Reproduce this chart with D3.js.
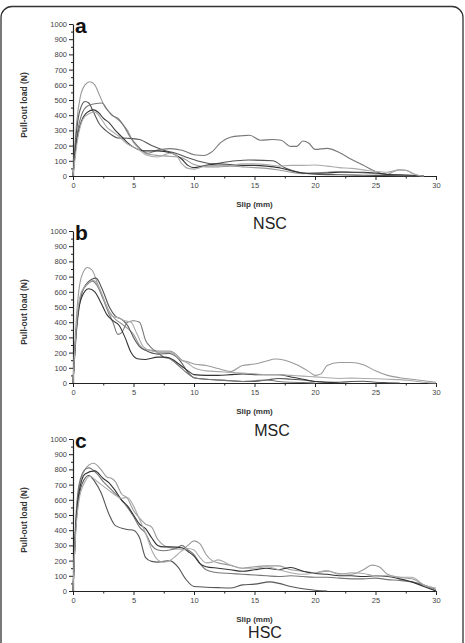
<!DOCTYPE html>
<html>
<head>
<meta charset="utf-8">
<script src="https://cdn.jsdelivr.net/npm/d3@7"></script>
<style>
    body { margin: 0; background: #fff; }
    svg { display: block; }
    .axis path, .axis line { stroke: #222; }
    .axis text { fill: #444; font-family: "Liberation Sans", Arial, sans-serif; font-size: 7.5px; }
</style>
</head>
<body>
<div id="chart-area"></div>
<script>

// tick values
const yTicks = [0, 100, 200, 300, 400, 500, 600, 700, 800, 900, 1000];
const xTicks = [0, 5, 10, 15, 20, 25, 30];
const panelLetters = ["a", "b", "c"];
const panelCaptions = ["NSC", "MSC", "HSC"];

// NSC curves, [slip (mm), load (N)]
const nsc1 = [[0,0],[0.3,350],[0.6,520],[1,600],[1.4,620],[1.8,600],[2.2,530],[2.6,460],[3,420],[3.5,385],[4,350],[4.5,300],[5,220],[5.5,180],[6,150],[6.5,140],[7,135],[8,130],[9,120],[10,75],[11,60],[12,60],[13,65],[14,60],[15,55],[16,50],[17,40],[18,25],[19,15],[20,20],[21,25],[22,30],[23,25],[24,20],[25,15],[26,12],[26.5,30],[27,40],[27.5,38],[28,20],[28.5,5],[29,0]];
const nsc2 = [[0,0],[0.3,300],[0.6,440],[1,490],[1.3,480],[1.7,420],[2.2,340],[2.7,300],[3.2,270],[3.7,250],[4.5,248],[5.5,240],[6.5,200],[7.5,170],[8.5,150],[9.5,120],[10.5,95],[11.5,80],[12.5,90],[13.5,100],[14.5,105],[16.5,100],[17.5,55],[19,20],[20,12],[22,8],[24,5],[26,3],[28,0]];
const nsc3 = [[0,0],[0.3,250],[0.7,400],[1.2,460],[1.8,475],[2.4,480],[2.8,440],[3.2,400],[3.7,380],[4.2,330],[4.7,260],[5.2,210],[5.7,170],[6.2,150],[7,170],[8,180],[9,170],[10,140],[10.8,135],[11.5,160],[12.2,220],[13,255],[14,265],[14.6,268],[15.5,235],[16.5,240],[17.2,235],[18,195],[18.5,195],[19,230],[19.5,215],[20,175],[21,182],[22,155],[23,110],[24,70],[25,30],[26,10],[27,5],[28,2],[29,0]];
const nsc4 = [[0,0],[0.3,230],[0.7,360],[1.2,420],[1.7,435],[2.2,410],[2.5,380],[3,350],[3.5,300],[4,260],[4.5,220],[5,190],[6,165],[7,165],[8,155],[9,110],[9.5,70],[10,55],[11,70],[12,80],[13,75],[14,70],[15,70],[16,65],[17,55],[18,35],[19,20],[20,18],[21,20],[22,25],[23,25],[24,25],[25,20],[26,10],[27,8],[28,5],[29,0]];
const nsc5 = [[0,0],[0.4,250],[0.8,370],[1.3,410],[1.8,420],[2.3,380],[2.8,320],[3.3,290],[3.8,260],[4.5,210],[5,190],[5.5,170],[6,140],[7,125],[8,150],[8.5,140],[9,80],[9.5,50],[10,45],[10.5,55],[11,65],[12,70],[13,70],[14,80],[15,80],[16,75],[17,65],[18,70],[19,70],[20,72],[21,65],[22,55],[23,50],[24,40],[25,30],[26,25],[26.5,35],[27,40],[27.5,38],[28,20],[28.5,5],[29,0]];

// MSC curves
const msc1 = [[0,0],[0.3,450],[0.7,700],[1.2,760],[1.6,740],[2,660],[2.5,560],[3,470],[3.5,420],[4,390],[4.5,360],[5,320],[5.5,250],[6,220],[6.5,215],[7,210],[8,210],[8.5,190],[9,150],[9.5,140],[10,125],[11,115],[12,95],[13,75],[14,115],[15,125],[16,145],[16.7,158],[17.5,150],[18.5,120],[19.5,75],[20,50],[20.5,60],[21,115],[22,135],[23,135],[24,120],[25,80],[26,50],[27,35],[28,25],[29,15],[30,5]];
const msc2 = [[0,0],[0.3,350],[0.7,580],[1.2,660],[1.9,690],[2.4,620],[3,500],[3.5,440],[4,420],[4.5,380],[5,300],[5.5,240],[6,215],[7,190],[8,195],[8.5,175],[9,130],[9.5,70],[10,35],[11,25],[12,20],[13,15],[14,10],[15,10],[16,20],[17,30],[18,25],[19,20],[20,10],[21,5],[22,5],[23,10],[24,12],[25,5],[26,2],[27,0]];
const msc3 = [[0,0],[0.3,380],[0.7,590],[1.2,650],[1.6,670],[2,640],[2.5,550],[3,450],[3.3,400],[3.7,320],[4,330],[4.5,400],[5,410],[5.5,400],[6,280],[6.5,230],[7,200],[7.5,170],[8,160],[8.5,130],[9,95],[9.5,60],[10,35],[11,25],[12,20],[13,15],[14,10],[15,15],[16,20],[17,10],[18,5],[19,3],[20,0]];
const msc4 = [[0,0],[0.3,380],[0.7,560],[1.3,620],[1.8,600],[2.3,530],[2.8,450],[3.3,410],[3.8,380],[4.3,300],[4.8,200],[5.3,160],[6,155],[7,170],[7.5,170],[8,165],[8.5,140],[9,110],[9.5,80],[10,55],[11,50],[12,50],[13,55],[14,60],[15,55],[16,55],[17,55],[18,40],[19,25],[20,10],[21,5],[22,0]];
const msc5 = [[0,0],[0.3,400],[0.7,600],[1.3,660],[1.7,675],[2.2,620],[2.7,520],[3.2,440],[3.7,430],[4.3,410],[4.8,400],[5.3,320],[5.8,240],[6.5,210],[7.5,200],[8,200],[8.5,180],[9,150],[9.5,130],[10,100],[11,80],[12,75],[13,70],[14,65],[15,60],[16,55],[17,55],[18,50],[19,45],[20,40],[21,35],[22,30],[23,32],[24,30],[25,28],[26,25],[27,22],[28,15],[29,5],[30,0]];

// HSC curves
const hsc1 = [[0,0],[0.2,400],[0.5,680],[1,800],[1.7,840],[2.3,800],[2.8,750],[3.2,740],[3.5,720],[4,640],[4.5,610],[5,530],[5.5,480],[6,440],[6.5,420],[7,340],[7.5,300],[8,285],[9,275],[9.5,300],[10,330],[10.5,310],[11,240],[11.5,200],[12,185],[13,170],[14,150],[15,160],[16,165],[17,165],[18,140],[19,130],[20,120],[21,130],[22,115],[23,110],[24,140],[24.7,170],[25.3,160],[26,110],[27,90],[28,80],[29,40],[30,0]];
const hsc2 = [[0,0],[0.2,380],[0.5,650],[1,770],[1.8,790],[2.5,740],[3,710],[3.5,660],[4,600],[4.5,560],[5,500],[5.5,440],[6,410],[6.5,350],[7,300],[7.5,290],[8,290],[9,285],[9.5,260],[10,230],[10.5,180],[11,160],[12,150],[13,140],[14,130],[15,140],[16,150],[17,140],[18,155],[19,130],[20,115],[21,110],[22,100],[23,100],[24,95],[25,100],[26,95],[27,80],[28,60],[29,30],[30,0]];
const hsc3 = [[0,0],[0.2,420],[0.5,700],[1,800],[1.3,810],[2,770],[2.5,720],[3,680],[3.5,640],[4,600],[4.5,550],[5,490],[5.5,420],[6,380],[6.5,300],[7,270],[7.5,265],[8,270],[8.5,280],[9,300],[9.5,270],[10,240],[10.5,180],[11,140],[12,120],[13,115],[14,110],[15,105],[16,100],[17,95],[18,100],[19,95],[20,90],[21,90],[22,85],[23,80],[24,80],[25,85],[26,75],[27,70],[28,60],[29,40],[30,10]];
const hsc4 = [[0,0],[0.2,350],[0.5,600],[1,720],[1.4,755],[2,720],[2.5,690],[3,660],[3.5,630],[4,610],[4.5,615],[5,560],[5.5,470],[6,380],[6.5,270],[7,205],[7.5,190],[8,200],[8.5,230],[9,265],[9.5,280],[10,270],[10.5,220],[11,185],[11.5,190],[12,205],[13,170],[14,150],[15,150],[16,160],[17,140],[18,120],[19,110],[20,120],[21,135],[22,110],[23,120],[24,115],[25,100],[26,100],[27,90],[28,90],[29,40],[30,20]];
const hsc5 = [[0,0],[0.2,380],[0.5,620],[0.9,730],[1.3,760],[1.8,720],[2.3,650],[3,500],[3.5,430],[4.5,405],[5,400],[5.5,350],[6,220],[6.5,195],[7,190],[8,200],[8.7,155],[9.3,80],[10,30],[11,25],[12,22],[13,20],[14,40],[15,45],[16.3,60],[17,50],[18,30],[19,15],[20,5],[21,0]];

const curveColors = ["#9a9a9a", "#555", "#777", "#333", "#aaa"];


class PullOutChart {

    constructor(svg, index, top, curves) {
        this.svg = svg;
        this.index = index;
        this.top = top;
        this.curves = curves;

        this.initVis();
    }

    initVis() {
        let vis = this;

        vis.left = 73;
        vis.width = 363;
        vis.height = 152;

        vis.g = vis.svg.append("g")
            .attr("transform", `translate(${vis.left}, ${vis.top})`);

        vis.x = d3.scaleLinear().domain([0, 30]).range([0, vis.width]);
        vis.y = d3.scaleLinear().domain([0, 1000]).range([vis.height, 0]);

        // minor ticks first, then the labelled ones
        vis.g.append("g")
            .attr("class", "axis")
            .call(d3.axisLeft(vis.y).tickValues(d3.range(50, 1000, 100)).tickSize(2).tickFormat(""))
            .select(".domain").remove();

        vis.g.append("g")
            .attr("class", "axis")
            .attr("transform", `translate(0, ${vis.height})`)
            .call(d3.axisBottom(vis.x).tickValues(d3.range(2.5, 30, 5)).tickSize(2.5).tickFormat(""))
            .select(".domain").remove();

        vis.g.append("g")
            .attr("class", "axis")
            .call(d3.axisLeft(vis.y).tickValues(yTicks).tickSize(4).tickSizeOuter(0).tickPadding(2).tickFormat(d3.format("d")));

        vis.g.append("g")
            .attr("class", "axis")
            .attr("transform", `translate(0, ${vis.height})`)
            .call(d3.axisBottom(vis.x).tickValues(xTicks).tickSize(4).tickSizeOuter(0).tickPadding(3).tickFormat(d3.format("d")));

        vis.g.selectAll(".axis .domain").attr("stroke-width", 1.2);

        // axis titles
        vis.g.append("text")
            .attr("transform", `translate(-46, ${vis.height / 2 + 5}) rotate(-90)`)
            .attr("text-anchor", "middle")
            .style("font-family", "'Liberation Sans', Arial, sans-serif")
            .style("font-size", "8.5px")
            .style("font-weight", "bold")
            .style("fill", "#333")
            .text("Pull-out load (N)");

        vis.g.append("text")
            .attr("x", vis.width / 2)
            .attr("y", vis.height + 31)
            .attr("text-anchor", "middle")
            .style("font-family", "'Liberation Sans', Arial, sans-serif")
            .style("font-size", "8px")
            .style("font-weight", "bold")
            .style("fill", "#333")
            .text("Slip (mm)");

        // panel letter
        vis.g.append("text")
            .attr("x", 2)
            .attr("y", 9)
            .style("font-family", "'Liberation Sans', Arial, sans-serif")
            .style("font-size", "21px")
            .style("font-weight", "bold")
            .style("fill", "#111")
            .text(panelLetters[vis.index]);

        // concrete label under the panel
        vis.g.append("text")
            .attr("x", [197, 199, 192][vis.index])
            .attr("y", vis.height + [53, 53, 47][vis.index])
            .attr("text-anchor", "middle")
            .style("font-family", "'Liberation Sans', Arial, sans-serif")
            .style("font-size", "16px")
            .style("fill", "#222")
            .text(panelCaptions[vis.index]);

        vis.line = d3.line()
            .x(d => vis.x(d[0]))
            .y(d => vis.y(d[1]))
            .curve(d3.curveMonotoneX);

        vis.updateVis();
    }

    updateVis() {
        let vis = this;

        vis.g.selectAll(".curve")
            .data(vis.curves)
            .enter()
            .append("path")
            .attr("class", "curve")
            .attr("d", d => vis.line(d))
            .attr("fill", "none")
            .attr("stroke", (d, i) => curveColors[i])
            .attr("stroke-width", 1.1);
    }
}


let svg = d3.select("#chart-area").append("svg")
    .attr("width", 465)
    .attr("height", 643);

// rounded frame of the figure
svg.append("rect")
    .attr("x", 1)
    .attr("y", 6.5)
    .attr("width", 462)
    .attr("height", 700)
    .attr("rx", 11)
    .attr("fill", "none")
    .attr("stroke", "#333")
    .attr("stroke-width", 1.3);

new PullOutChart(svg, 0, 24, [nsc1, nsc2, nsc3, nsc4, nsc5]);
new PullOutChart(svg, 1, 231, [msc1, msc2, msc3, msc4, msc5]);
new PullOutChart(svg, 2, 439, [hsc1, hsc5, hsc3, hsc2, hsc4]);

</script>
</body>
</html>
